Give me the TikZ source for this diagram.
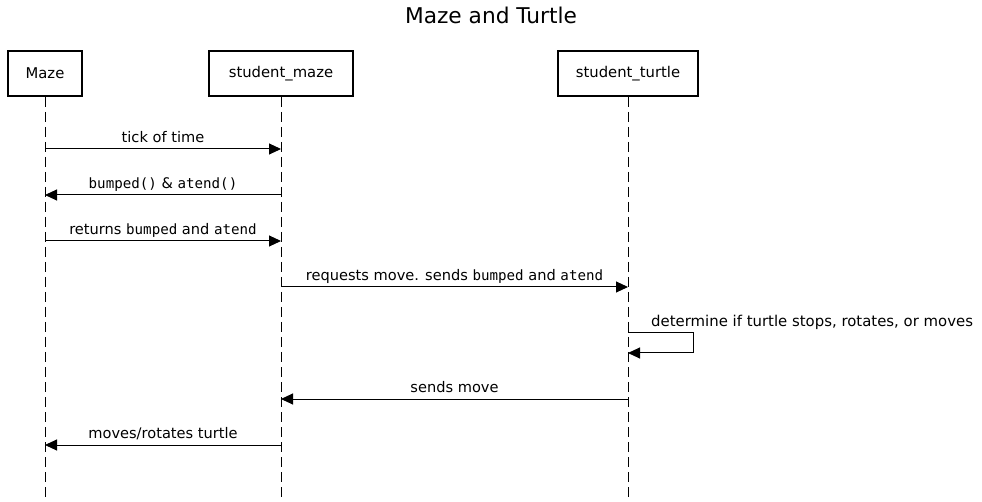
\documentclass[tikz,border=0pt]{standalone}
\usepackage{fontspec}
\setmainfont{DejaVu Sans}
\setmonofont[Scale=0.97]{DejaVu Sans Mono}
\usetikzlibrary{arrows.meta}
\begin{document}
\begin{tikzpicture}[x=1pt,y=-1pt,
  actor/.style={draw,line width=2pt,minimum height=45pt,inner sep=0pt,font=\fontsize{14.8}{17}\selectfont},
  life/.style={line width=1pt,dash pattern=on 10pt off 5pt},
  msg/.style={line width=1pt,-{Triangle[length=12pt,width=11pt]}},
  lbl/.style={font=\fontsize{14.6}{17}\selectfont,inner sep=0pt,anchor=base}]
\useasboundingbox (0,0) rectangle (982,502);
\node[font=\fontsize{21.7}{25}\selectfont,anchor=base] (title) at (491,24) {Maze and Turtle};
\node[actor,minimum width=74pt] (maze) at (45,73.5) {\raisebox{-1.5pt}{Maze}};
\node[actor,minimum width=144pt] (smaze) at (281,73.5) {\raisebox{-1.5pt}{student\_maze}};
\node[actor,minimum width=140pt] (sturtle) at (628,73.5) {\raisebox{-1.5pt}{student\_turtle}};
\coordinate (mazeend) at (45,502);
\coordinate (smazeend) at (281,502);
\coordinate (sturtleend) at (628,502);
\draw[life] (maze.south) -- (mazeend);
\draw[life] (smaze.south) -- (smazeend);
\draw[life] (sturtle.south) -- (sturtleend);
% messages
\coordinate (a1) at (45,149); \coordinate (b1) at (281,149);
\coordinate (a2) at (281,195); \coordinate (b2) at (45,195);
\coordinate (a3) at (45,241); \coordinate (b3) at (281,241);
\coordinate (a4) at (281,287); \coordinate (b4) at (628,287);
\coordinate (a5) at (628,333); \coordinate (b5) at (628,353);
\coordinate (a6) at (628,399); \coordinate (b6) at (281,399);
\coordinate (a7) at (281,445); \coordinate (b7) at (45,445);
\draw[msg] (a1) -- (b1);
\node[lbl] (l1) at (163,142.5) {tick of time};
\draw[msg] (a2) -- (b2);
\node[lbl] (l2) at (163,188.5) {\texttt{bumped()} \& \texttt{atend()}};
\draw[msg] (a3) -- (b3);
\node[lbl] (l3) at (163,234.5) {returns \texttt{bumped} and \texttt{atend}};
\draw[msg] (a4) -- (b4);
\node[lbl] (l4) at (454.5,280.5) {requests move. sends \texttt{bumped} and \texttt{atend}};
\draw[msg] (a5) -- (693,333) -- (693,353) -- (b5);
\node[lbl,anchor=base west,font=\fontsize{14.9}{17}\selectfont] (l5) at (651,326.5) {determine if turtle stops, rotates, or moves};
\draw[msg] (a6) -- (b6);
\node[lbl] (l6) at (454.5,392.5) {sends move};
\draw[msg] (a7) -- (b7);
\node[lbl] (l7) at (163,438.5) {moves/rotates turtle};
\end{tikzpicture}
\end{document}
